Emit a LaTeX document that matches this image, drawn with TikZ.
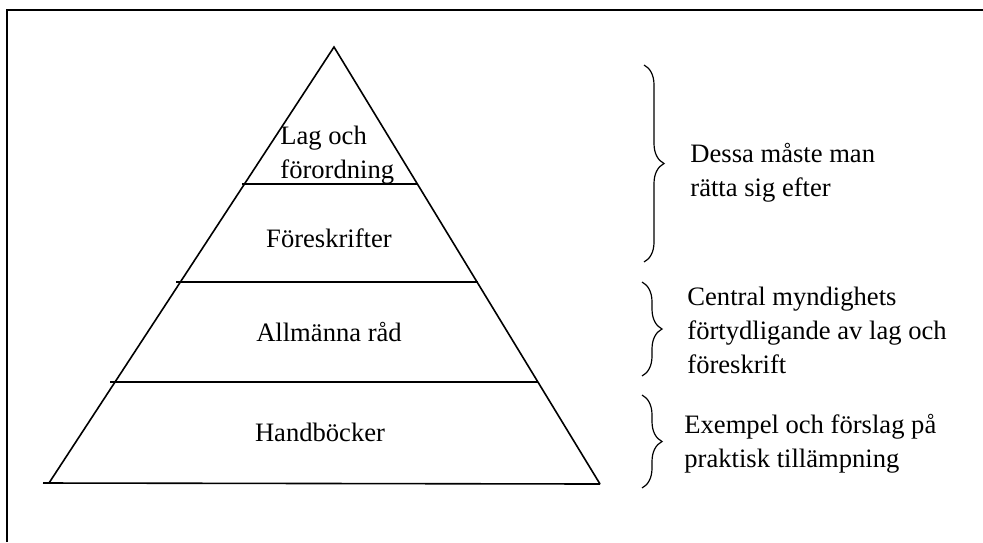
\documentclass[tikz,border=0pt]{standalone}
\usepackage{fontspec}
\setmainfont{Liberation Serif}
\usetikzlibrary{decorations.pathreplacing,positioning}

\begin{document}
\begin{tikzpicture}[x=0.5pt,y=-0.5pt, every node/.style={font=\fontsize{13.3}{17}\selectfont,align=left,inner sep=0pt},
    layer/.style={line width=0.8pt},
    curly/.style={decorate,decoration={brace,amplitude=10pt,aspect=0.5},line width=0.6pt}]
    \useasboundingbox (0,0) rectangle (983,542);
    \draw[line width=1pt] (7,542) -- (7,10) -- (983,10);
    % pyramid
    \coordinate (apex) at (334,47);
    \coordinate (bl) at (49,483);
    \coordinate (br) at (600,484);
    \draw[layer] (bl) -- (apex) -- (br);
    \draw[layer] (43,483) -- (br);
    \foreach \ya/\xa/\xb in {184/242/417, 282/176/478, 382/110/538}{\draw[layer] (\xa,\ya) -- (\xb,\ya);}
    % levels
    \node[anchor=west] (lag) at (280,155) {Lag och\\förordning};
    \node (foreskr) at (329,238) {Föreskrifter};
    \node (allm) at (329,332) {Allmänna råd};
    \node (handb) at (320,432) {Handböcker};
    % braces and notes
    \draw[curly] (644,65) -- (644,262);
    \draw[curly] (642,282) -- (642,376);
    \draw[curly] (642,395) -- (642,488);
    \node[anchor=west] (dessa) at (690,173) {Dessa måste man\\rätta sig efter};
    \node[anchor=west] (central) at (687,330) {Central myndighets\\förtydligande av lag och\\föreskrift};
    \node[anchor=west] (exempel) at (684,444) {Exempel och förslag på\\praktisk tillämpning};
\end{tikzpicture}
\end{document}
